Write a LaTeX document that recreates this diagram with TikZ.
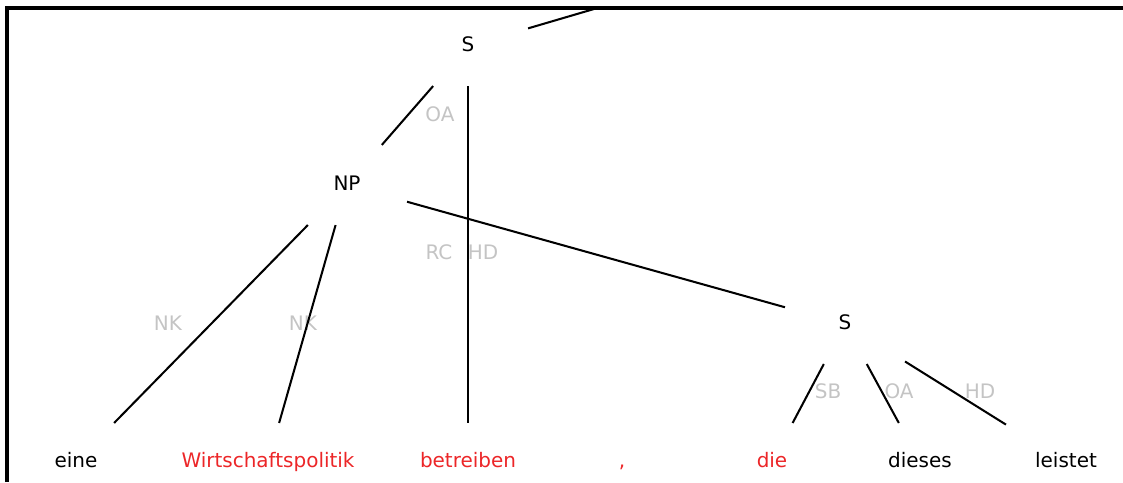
\documentclass[tikz,border=0pt]{standalone}
\usepackage{fontspec}
\setmainfont{DejaVu Sans}
\usetikzlibrary{positioning}

\definecolor{wordred}{RGB}{236,38,40}
\definecolor{labgray}{RGB}{196,196,196}

\begin{document}
\begin{tikzpicture}[
  x=0.025cm, y=-0.025cm, line width=1.45pt,
  node font=\fontsize{14.2}{17}\selectfont,
  cat/.style  = {rectangle, inner sep=0pt, minimum width=2.95cm, minimum height=1.95cm,
                 text height=10.4pt, text depth=3pt},
  word/.style = {cat, minimum height=1.9cm},
  lab/.style  = {text=labgray, inner sep=0pt},
]
  \useasboundingbox (0,0) rectangle (1123,482);

  % inner nodes
  \node[cat] (S1) at (468,46)  {S};
  \node[cat] (NP) at (347,185) {NP};
  \node[cat] (S2) at (845,324) {S};
  \coordinate (up) at (594,9);

  % terminals
  \node[word]               (eine)    at (76,462)   {eine};
  \node[word, text=wordred] (wirt)    at (268,462)  {Wirtschaftspolitik};
  \node[word, text=wordred] (betr)    at (468,462)  {betreiben};
  \node[word, text=wordred] (komma)   at (622,462)  {,};
  \node[word, text=wordred] (die)     at (772,462)  {die};
  \node[word]               (dieses)  at (920,462)  {dieses};
  \node[word]               (leistet) at (1066,462) {leistet};

  % edge labels
  \node[lab] (lOA)  at (440,114) {OA};
  \node[lab] (lHD)  at (483,252) {HD};
  \node[lab] (lRC)  at (439,252) {RC};
  \node[lab] (lNKa) at (168,323) {NK};
  \node[lab] (lNKb) at (303,323) {NK};
  \node[lab] (lSB)  at (828,391) {SB};
  \node[lab] (lOAb) at (899,391) {OA};
  \node[lab] (lHDb) at (980,391) {HD};

  \draw (S1) -- (up);
  \draw (S1) -- (NP);
  \draw (S1) -- (betr);
  \draw (NP) -- (eine);
  \draw (NP) -- (wirt);
  \draw (NP) -- (S2);
  \draw (S2) -- (die);
  \draw (S2) -- (dieses);
  \draw (S2) -- (leistet);

  % frame, cut at the right and bottom
  \draw[line width=2.2pt] (7,482) -- (7,8) -- (1123,8);
\end{tikzpicture}
\end{document}
